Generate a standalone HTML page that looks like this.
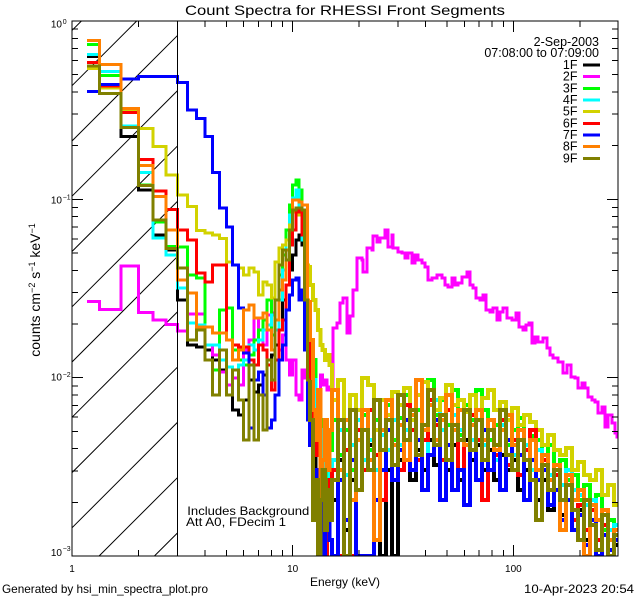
<!DOCTYPE html>
<html><head><meta charset="utf-8"><style>html,body{margin:0;padding:0;background:#fff}svg{display:block}</style></head><body>
<svg width="640" height="600" viewBox="0 0 640 600" xmlns="http://www.w3.org/2000/svg" font-family="'Liberation Sans', sans-serif">
<rect width="640" height="600" fill="#fff"/>
<defs><clipPath id="c"><rect x="72" y="21" width="546" height="535"/></clipPath></defs>
<g stroke="#000" stroke-width="1" fill="none" clip-path="url(#c)">
<path d="M72,30.4L81.4,21 M72,85.7L136.7,21 M72,141L177.3,35.7 M72,196.2L177.3,90.9 M72,251.5L177.3,146.2 M72,306.8L177.3,201.5 M72,362L177.3,256.7 M72,417.3L177.3,312 M72,472.6L177.3,367.3 M72,527.8L177.3,422.5 M99.1,556L177.3,477.8 M154.4,556L177.3,533.1"/>
</g>
<g fill="none" stroke-width="3" shape-rendering="crispEdges" stroke-linejoin="miter" clip-path="url(#c)">
<path stroke="#000000" d="M87,56.7H99.6V87.7H121V136.7H138.4V190H153.2V235H166V250H177.3V300H187.4V345H196.5V347H204.9V350H212.5V360H219.6V370H226.3V395H232.5V410H238.3V415H243.7V400H248.9V380H253.8V392H258.5V385H263V375H267.2V360H271.3V355H275.2V345H279V330H282.6V300H286.1V285H289.5V270H292.7V255H295.8V240H298.9V235H301.8V245H304.7V300H307.5V370H310.2"/>
<path stroke="#000000" stroke-width="4" d="M310.2,370V420H312.8V440H315.4V490H317.8V470H320.3V500H322.6V470H325V480H327.2V440H329.4V460H332V500H338V460H344V530H350V480H356V440H362V470H368V445H374V500H380V556H386V470H392V556H398V460H404V440H410V480H416V450H422V470H428V440H434V465H440V430H446V470H452V445H458V480H464V440H470V460H476V445H482V470H488V450H494V480H500V455H506V470H512V460H518V490H524V470H530V480H536V500H542V480H548V510H554V490H560V515H566V500H572V530H578V510H584V540H590V520H596V550H602V530H608V556H614V545H618"/>
<path stroke="#ff00ff" d="M87,301.7H99.6V309.3H121V266H138.4V312.7H153.2V320H166V324.3H177.3V331H187.4V314H196.5V314H204.9V345H212.5V355H219.6V372H226.3V385H232.5V378H238.3V385H243.7V350H248.9V340H253.8V318H258.5V330H263V345H267.2V315H271.3V313H275.2V330H279V350H282.6V335H286.1V360H289.5V375H292.7V360H295.8V395H298.9V400H301.8V370H304.7V378H307.5V395H310.2V385H312.8V400H315.4V390H317.8V395H320.3V375H322.6V385H325V380H327.2V390H329.4V387H333V328H337V323H340V303H343V298H347V333H350V316H353V290H357V258H362V260H363V272H367V248H372V250H373V236H377V242H380V238H385V230H388V247H392V235H393V248H398V252H402V253H405V258H408V253H412V263H415V255H418V260H422V263H425V267H428V280H432V278H437V275H442V278H445V285H448V287H452V278H455V285H458V283H462V277H467V272H470V285H473V288H476V298H480V300H483V295H486V310H490V312H493V308H497V320H500V312H503V308H507V318H512V320H516V313H519V327H523V330H526V325H529V323H532V343H535V337H538V342H543V338H547V348H550V355H553V358H558V362H563V373H567V365H571V377H575V378H578V388H582V383H585V388H588V397H592V400H595V402H598V413H602V407H605V427H608V415H612V423H615V433H617V437H620"/>
<path stroke="#00ff00" d="M87,44.3H99.6V75.7H121V126.7H138.4V185H153.2V222H166V246.7H177.3V247H187.4V275H196.5V278H204.9V360H212.5V370H219.6V310H226.3V308H232.5V350H238.3V360H243.7V365H248.9V355H253.8V340H258.5V330H263V320H267.2V300H271.3V335H275.2V300H279V275H282.6V255H286.1V230H289.5V205H292.7V185H295.8V180H298.9V190H301.8V220H304.7V280H307.5V330H310.2"/>
<path stroke="#00ff00" stroke-width="4" d="M310.2,330V370H312.8V360H315.4V400H317.8V450H320.3V420H322.6V470H325V500H327.2V430H329.4V450H332V420H338V455H344V430H350V470H356V440H362V415H368V450H374V420H380V435H386V405H392V440H398V418H404V395H410V430H416V410H422V440H428V380H434V415H440V400H446V425H452V390H458V435H464V405H470V420H476V390H482V410H488V440H494V425H500V410H506V445H512V430H518V418H524V450H530V436H536V440H542V460H548V445H554V470H560V460H566V480H572V475H578V500H584V485H590V510H596V495H602V530H608V520H614V540H618"/>
<path stroke="#00ffff" d="M87,54.7H99.6V71.7H121V126H138.4V172.7H153.2V238H166V255H177.3V288H187.4V323H196.5V325H204.9V345H212.5V345H219.6V360H226.3V367H232.5V370H238.3V365H243.7V360H248.9V345H253.8V350H258.5V340H263V330H267.2V325H271.3V315H275.2V330H279V300H282.6V270H286.1V240H289.5V215H292.7V198H295.8V190H298.9V205H301.8V240H304.7V300H307.5V350H310.2"/>
<path stroke="#00ffff" stroke-width="4" d="M310.2,350V400H312.8V380H315.4V420H317.8V450H320.3V430H322.6V470H325V440H327.2V460H329.4V480H332V460H338V430H344V475H350V445H356V420H362V460H368V440H374V470H380V435H386V450H392V420H398V445H404V430H410V410H416V440H422V425H428V455H434V400H440V430H446V445H452V415H458V430H464V410H470V440H476V420H482V445H488V430H494V460H500V425H506V440H512V455H518V430H524V445H530V470H536V450H542V460H548V475H554V465H560V485H566V470H572V490H578V495H584V505H590V500H596V520H602V510H608V530H614V525H618"/>
<path stroke="#d2d200" d="M87,68.7H99.6V88H121V110H138.4V128.3H153.2V146.7H166V175H177.3V195H187.4V206.7H196.5V230.7H204.9V233H212.5V235H219.6V238.3H226.3V262H232.5V265H238.3V268H243.7V275H248.9V268H253.8V272H258.5V295H263V282H267.2V285H271.3V298H275.2V262H279V248H282.6V245H286.1V240H289.5V225H292.7V212H295.8V215H298.9V215H301.8V212H304.7V220H307.5V265H310.2"/>
<path stroke="#d2d200" stroke-width="4" d="M310.2,265V285H312.8V300H315.4V310H317.8V330H320.3V345H322.6V350H325V360H327.2V355H329.4V365H332V400H338V380H344V420H350V395H356V410H362V378H368V385H374V430H380V400H386V415H392V392H398V405H404V388H410V420H416V395H422V382H428V400H434V410H440V398H446V385H452V405H458V400H464V412H470V395H476V420H482V398H488V390H494V410H500V402H506V420H512V408H518V425H524V415H530V422H536V430H542V445H548V435H554V450H560V455H566V448H572V470H578V462H584V475H590V480H596V470H602V495H608V485H614V505H618"/>
<path stroke="#ff0000" d="M87,62.7H99.6V86H121V112.7H138.4V159.3H153.2V191H166V209.3H177.3V230H187.4V240H196.5V273H204.9V282H212.5V265H219.6V265H226.3V340H232.5V345H238.3V347H243.7V347H248.9V360H253.8V365H258.5V345H263V350H267.2V365H271.3V390H275.2V360H279V330H282.6V320H286.1V285H289.5V245H292.7V230H295.8V212H298.9V208H301.8V235H304.7V260H307.5V340H310.2"/>
<path stroke="#ff0000" stroke-width="4" d="M310.2,340V380H312.8V430H315.4V455H317.8V420H320.3V470H322.6V500H325V556H327.2V510H329.4V480H332V470H338V556H344V450H350V556H356V430H362V470H368V410H374V455H380V500H386V420H392V445H398V470H404V405H410V430H416V460H422V440H428V400H434V425H440V460H446V410H452V430H458V470H464V445H470V415H476V440H482V500H488V430H494V455H500V420H506V465H512V440H518V475H524V450H530V430H536V470H542V460H548V490H554V475H560V500H566V485H572V520H578V505H584V530H590V510H596V540H602V525H608V550H614V535H618"/>
<path stroke="#0000ff" d="M87,91.7H99.6V84.7H121V79H138.4V76.7H153.2V76.7H166V76.7H177.3V82.3H187.4V110H196.5V118.7H204.9V136.7H212.5V172.3H219.6V208H226.3V227H232.5V265H238.3V308H243.7V353H248.9V428H253.8V380H258.5V372H263V395H267.2V428H271.3V420H275.2V395H279V360H282.6V345H286.1V310H289.5V295H292.7V280H295.8V278H298.9V300H301.8V290H304.7V350H307.5V420H310.2"/>
<path stroke="#0000ff" stroke-width="4" d="M310.2,420V445H312.8V500H315.4V470H317.8V530H320.3V480H322.6V556H325V520H327.2V490H329.4V540H332V556H338V480H344V520H350V460H356V556H362V556H368V556H374V500H380V470H386V430H392V480H398V450H404V420H410V470H416V440H422V490H428V455H434V420H440V500H446V445H452V490H458V470H464V505H470V450H476V480H482V430H488V470H494V450H500V490H506V440H512V470H518V455H524V500H530V460H536V480H542V470H548V505H554V490H560V520H566V500H572V530H578V515H584V545H590V520H596V556H602V535H608V550H614V540H618"/>
<path stroke="#ff8000" d="M87,40.7H99.6V64.3H121V108.3H138.4V165.7H153.2V196.7H166V230H177.3V280H187.4V293H196.5V327H204.9V327H212.5V333H219.6V333H226.3V340H232.5V360H238.3V350H243.7V310H248.9V305H253.8V318H258.5V318H263V313H267.2V330H271.3V350H275.2V320H279V290H282.6V280H286.1V250H289.5V230H292.7V200H295.8V200H298.9V202H301.8V205H304.7V205H307.5V300H310.2"/>
<path stroke="#ff8000" stroke-width="4" d="M310.2,300V340H312.8V410H315.4V440H317.8V390H320.3V500H322.6V460H325V420H327.2V470H329.4V430H332V390H338V470H344V420H350V500H356V440H362V410H368V460H374V540H380V430H386V400H392V445H398V425H404V460H410V415H416V380H422V430H428V405H434V440H440V420H446V395H452V430H458V410H464V445H470V425H476V410H482V440H488V420H494V450H500V430H506V415H512V445H518V430H524V460H530V440H536V470H542V455H548V480H554V465H560V530H566V475H572V500H578V490H584V556H590V505H596V520H602V510H608V540H614V530H618"/>
<path stroke="#808000" d="M87,66H99.6V93.3H121V127.7H138.4V185.7H153.2V220H166V248.3H177.3V268H187.4V340H196.5V330H204.9V360H212.5V395H219.6V350H226.3V395H232.5V370H238.3V400H243.7V440H248.9V365H253.8V440H258.5V395H263V430H267.2V360H271.3V380H275.2V300H279V265H282.6V250H286.1V260H289.5V230H292.7V210H295.8V208H298.9V208H301.8V210H304.7V300H307.5V380H310.2"/>
<path stroke="#808000" stroke-width="4" d="M310.2,380V420H312.8V520H315.4V480H317.8V556H320.3V500H322.6V470H325V530H327.2V490H329.4V520H332V480H338V420H344V556H350V410H356V490H362V430H368V470H374V400H380V450H386V420H392V465H398V395H404V440H410V410H416V455H422V425H428V390H434V445H440V415H446V460H452V425H458V440H464V410H470V450H476V420H482V460H488V430H494V445H500V410H506V455H512V470H518V440H524V460H530V480H536V520H542V465H548V490H554V470H560V500H566V485H572V510H578V540H584V500H590V525H596V550H602V515H608V556H614V535H618"/>
</g>
<g stroke="#000" stroke-width="1" fill="none" shape-rendering="crispEdges">
<rect x="72" y="21" width="546" height="535"/>
<path d="M177.3,21V556"/>
<path d="M292.7,556V545M513.4,556V545M138.4,556V550M177.3,556V550M204.9,556V550M226.3,556V550M243.7,556V550M258.5,556V550M271.3,556V550M282.6,556V550M359.1,556V550M398,556V550M425.6,556V550M447,556V550M464.4,556V550M479.2,556V550M492,556V550M503.3,556V550M579.8,556V550"/>
<path d="M292.7,21V32M513.4,21V32M138.4,21V27M177.3,21V27M204.9,21V27M226.3,21V27M243.7,21V27M258.5,21V27M271.3,21V27M282.6,21V27M359.1,21V27M398,21V27M425.6,21V27M447,21V27M464.4,21V27M479.2,21V27M492,21V27M503.3,21V27M579.8,21V27"/>
<path d="M72,199.3H83M72,377.7H83M72,29.1H78M72,38.3H78M72,48.6H78M72,60.5H78M72,74.7H78M72,91.9H78M72,114.2H78M72,145.6H78M72,207.5H78M72,216.7H78M72,227H78M72,238.9H78M72,253.1H78M72,270.3H78M72,292.6H78M72,324H78M72,385.8H78M72,395H78M72,405.3H78M72,417.2H78M72,431.4H78M72,448.6H78M72,470.9H78M72,502.3H78"/>
<path d="M618,199.3H607M618,377.7H607M618,29.1H612M618,38.3H612M618,48.6H612M618,60.5H612M618,74.7H612M618,91.9H612M618,114.2H612M618,145.6H612M618,207.5H612M618,216.7H612M618,227H612M618,238.9H612M618,253.1H612M618,270.3H612M618,292.6H612M618,324H612M618,385.8H612M618,395H612M618,405.3H612M618,417.2H612M618,431.4H612M618,448.6H612M618,470.9H612M618,502.3H612"/>
</g>
<g stroke-width="3" shape-rendering="crispEdges">
<path stroke="#000000" d="M583,65H600"/>
<path stroke="#ff00ff" d="M583,76.7H600"/>
<path stroke="#00ff00" d="M583,88.3H600"/>
<path stroke="#00ffff" d="M583,100H600"/>
<path stroke="#d2d200" d="M583,111.7H600"/>
<path stroke="#ff0000" d="M583,123.3H600"/>
<path stroke="#0000ff" d="M583,135H600"/>
<path stroke="#ff8000" d="M583,146.7H600"/>
<path stroke="#808000" d="M583,158.3H600"/>
</g>
<g fill="#000">
<text x="185" y="15" font-size="14" textLength="320" lengthAdjust="spacingAndGlyphs">Count Spectra for RHESSI Front Segments</text>
<text x="599" y="46" font-size="12.5" text-anchor="end">2-Sep-2003</text>
<text x="599" y="57" font-size="12.5" text-anchor="end">07:08:00 to 07:09:00</text>
<g font-size="12.5" text-anchor="end">
<text x="577.5" y="69">1F</text>
<text x="577.5" y="80.7">2F</text>
<text x="577.5" y="92.3">3F</text>
<text x="577.5" y="104">4F</text>
<text x="577.5" y="115.7">5F</text>
<text x="577.5" y="127.3">6F</text>
<text x="577.5" y="139">7F</text>
<text x="577.5" y="150.7">8F</text>
<text x="577.5" y="162.3">9F</text>
</g>
<g font-size="10" text-anchor="end">
<text x="62" y="27.3">10</text>
<text x="62" y="203.3">10</text>
<text x="62" y="380.5">10</text>
<text x="62" y="556">10</text>
</g>
<g font-size="7">
<text x="62.7" y="24">0</text>
<text x="62.7" y="199.5">−1</text>
<text x="62.7" y="377">−2</text>
<text x="62.7" y="551">−3</text>
</g>
<g font-size="10" text-anchor="middle">
<text x="72" y="572">1</text>
<text x="292.7" y="572">10</text>
<text x="513.4" y="572">100</text>
</g>
<text x="345" y="586" font-size="12" text-anchor="middle">Energy (keV)</text>
<text transform="translate(40,290) rotate(-90)" text-anchor="middle" font-size="14">counts cm<tspan font-size="9" dy="-5">−2</tspan><tspan dy="5"> s</tspan><tspan font-size="9" dy="-5">−1</tspan><tspan dy="5"> keV</tspan><tspan font-size="9" dy="-5">−1</tspan></text>
<text x="187.3" y="515" font-size="12" textLength="122" lengthAdjust="spacingAndGlyphs">Includes Background</text>
<text x="186" y="526" font-size="12" textLength="100" lengthAdjust="spacingAndGlyphs">Att A0, FDecim 1</text>
<text x="2" y="593" font-size="12" textLength="206" lengthAdjust="spacingAndGlyphs">Generated by hsi_min_spectra_plot.pro</text>
<text x="524" y="593" font-size="12" textLength="110" lengthAdjust="spacingAndGlyphs">10-Apr-2023 20:54</text>
</g>
</svg>
</body></html>
